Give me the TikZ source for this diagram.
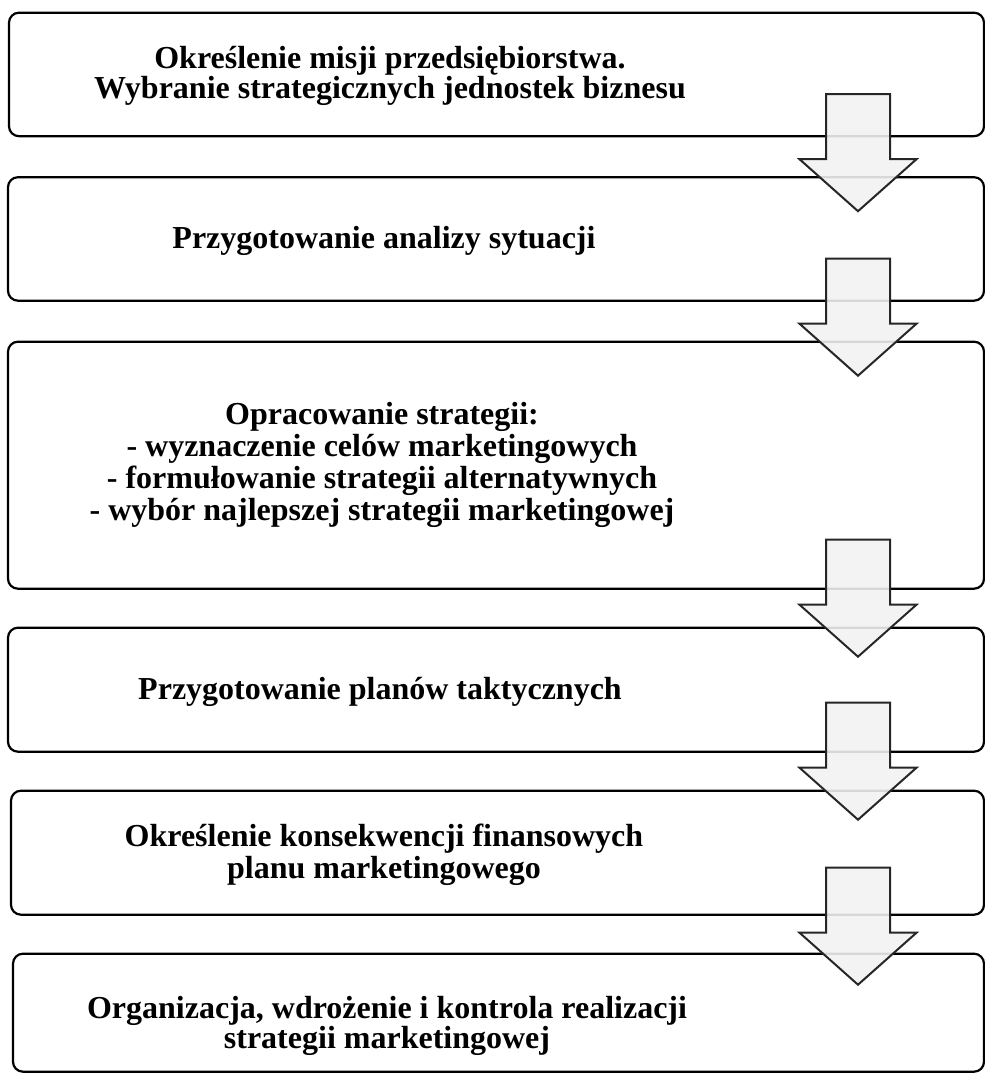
\documentclass[tikz,border=0pt]{standalone}
\usepackage{fontspec}
\setmainfont{Liberation Serif}
\usetikzlibrary{positioning,calc}
\newcommand*\boxgap {39pt}
\newcommand*\boxhigh{124pt}
\tikzset{
    stage/.style     = {draw, rounded corners=10pt, line width=2.2pt,
                        minimum width=976pt, minimum height=\boxhigh,
                        inner sep=0pt, outer sep=0pt},
    stagetext/.style = {font=\fontsize{32}{#1}\selectfont\bfseries,
                        align=center, inner sep=0pt},
    stagetext/.default = 31,
    blockarrow/.style= {draw=black!85, line width=2pt, line join=miter,
                        fill=gray!10, fill opacity=0.89},
  }
\begin{document}
\begin{tikzpicture}[x=1pt, y=1pt]
    \useasboundingbox (0,0) rectangle (985,-1074);

    % the six stages, stacked from the top, right edges aligned
    \node[stage, minimum width=975pt, minimum height=123.5pt, anchor=north east] (box1) at (984,-12.7) {};
    \node[stage, minimum height=123.5pt, below=41pt of box1.south east, anchor=north east] (box2) {};
    \node[stage, minimum height=247pt, below=41pt of box2.south east, anchor=north east] (box3) {};
    \node[stage, below=\boxgap of box3.south east, anchor=north east] (box4) {};
    \node[stage, minimum width=973pt, below=\boxgap of box4.south east, anchor=north east] (box5) {};
    \node[stage, minimum width=971pt, minimum height=118pt, below=\boxgap of box5.south east, anchor=north east] (box6) {};

    % texts sit left of the box centres, on one vertical axis
    \coordinate (axis) at (384,0);
    \node[stagetext=28.5] (t1) at ([xshift=6pt,yshift=-1.5pt]box1.center -| axis) {Określenie misji przedsiębiorstwa.\\Wybranie strategicznych jednostek biznesu};
    \node[stagetext] (t2) at ([yshift=-2pt]box2.center -| axis) {Przygotowanie analizy sytuacji};
    \node[stagetext=32] (t3) at ([xshift=-2pt]box3.center -| axis) {Opracowanie strategii:\\- wyznaczenie celów marketingowych\\- formułowanie strategii alternatywnych\\- wybór najlepszej strategii marketingowej};
    \node[stagetext] (t4) at ([xshift=-4pt,yshift=-2pt]box4.center -| axis) {Przygotowanie planów taktycznych};
    \node[stagetext=31.5] (t5) at ([yshift=-2pt]box5.center -| axis) {Określenie konsekwencji finansowych\\planu marketingowego};
    \node[stagetext=28] (t6) at ([xshift=3pt,yshift=-13pt]box6.center -| axis) {Organizacja, wdrożenie i kontrola realizacji\\strategii marketingowej};

    % block arrows across each gap, near the right side
    \foreach \a/\b/\dy [count=\i] in {box1/box2/4, box2/box3/4, box3/box4/10, box4/box5/10, box5/box6/8} {
        \coordinate (arr\i) at ($(\a.south east)!0.5!(\b.north east) + ({-126},{58.5+\dy})$);
        \draw[blockarrow] (arr\i) -- ++(32,0) -- ++(0,-65) -- ++(26.5,0) -- ++(-58.5,-52)
                          -- ++(-58.5,52) -- ++(26.5,0) -- ++(0,65) -- cycle;
    }
\end{tikzpicture}
\end{document}
